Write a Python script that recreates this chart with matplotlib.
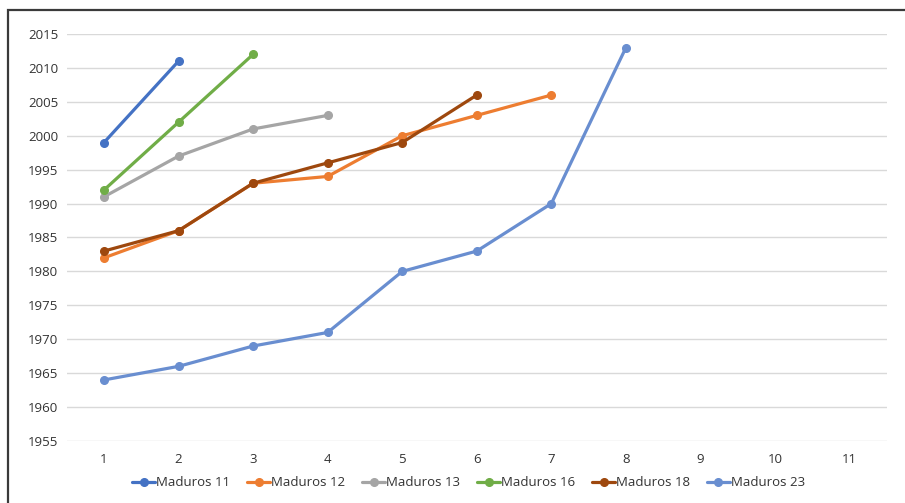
import matplotlib.pyplot as plt
from matplotlib.patches import Rectangle

plt.rcParams['font.family'] = ['Open Sans', 'DejaVu Sans']

# participation by year for each group
maduros_11 = [1999, 2011]
maduros_12 = [1982, 1986, 1993, 1994, 2000, 2003, 2006]
maduros_13 = [1991, 1997, 2001, 2003]
maduros_16 = [1992, 2002, 2012]
maduros_18 = [1983, 1986, 1993, 1996, 1999, 2006]
maduros_23 = [1964, 1966, 1969, 1971, 1980, 1983, 1990, 2013]

series = [
    ("Maduros 11", maduros_11, "#4472C4"),
    ("Maduros 12", maduros_12, "#ED7D31"),
    ("Maduros 13", maduros_13, "#A5A5A5"),
    ("Maduros 16", maduros_16, "#70AD47"),
    ("Maduros 18", maduros_18, "#9E480E"),
    ("Maduros 23", maduros_23, "#698ED0"),
]
x_labels = [str(i) for i in range(1, 12)]

fig = plt.figure(figsize=(9.05, 5.03), dpi=100)
ax = fig.add_axes([0.0737, 0.1233, 0.9063, 0.8091])

for name, vals, col in series:
    xs = list(range(1, len(vals) + 1))
    ax.plot(xs, vals, color=col, lw=2.3, marker='o', ms=5.5, label=name,
            solid_capstyle='round')

ax.set_xlim(0.5, 11.5)
ax.set_ylim(1955, 2015)
ax.set_yticks(range(1955, 2016, 5))
ax.set_xticks(range(1, 12))
ax.set_xticklabels(x_labels)
ax.grid(axis='y', color='#d9d9d9', lw=1)
ax.set_axisbelow(True)
for s in ax.spines.values():
    s.set_visible(False)
ax.tick_params(length=0, labelsize=9.5, colors='#333333')
ax.tick_params(axis='x', pad=9)
ax.tick_params(axis='y', pad=6)

fig.legend(loc='center', bbox_to_anchor=(0.518, 0.04), ncol=6, frameon=False,
           fontsize=9.5, handlelength=1.7, handletextpad=0.1, columnspacing=1.3,
           labelcolor='#333333')

# outer chart frame
fig.patches.append(Rectangle((8 / 905, -0.1), 1.2, 1 - 10 / 503 + 0.1,
                             transform=fig.transFigure, fill=False,
                             edgecolor='#3a3a3a', lw=1.6))

fig.savefig('out.png', dpi=100)
